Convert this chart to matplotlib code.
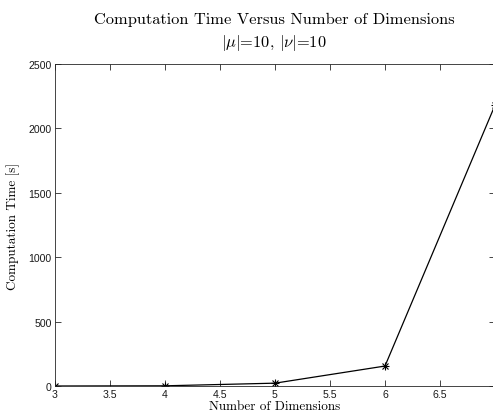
import numpy as np
import matplotlib
matplotlib.use("Agg")
import matplotlib.pyplot as plt

# data
dims = [3, 4, 5, 6, 7]
comp_time = [0.1, 1.5, 22, 155, 2180]

x_ticks = [3, 3.5, 4, 4.5, 5, 5.5, 6, 6.5, 7]
x_tick_labels = ["3", "3.5", "4", "4.5", "5", "5.5", "6", "6.5", ""]
y_ticks = [0, 500, 1000, 1500, 2000, 2500]

plt.rcParams["mathtext.fontset"] = "cm"
plt.rcParams["font.family"] = ["Liberation Sans", "DejaVu Sans"]
plt.rcParams["axes.unicode_minus"] = False

AX_GREY = "#262626"
SERIF = "cmr10"

fig = plt.figure(figsize=(4.93, 4.14), dpi=100)
ax = fig.add_axes([55 / 493, 1 - 387 / 414, 440 / 493, 322 / 414])

ax.plot(dims, comp_time, color="black", linewidth=0.9)
ax.plot(dims, comp_time, linestyle="none", marker="+", color="black",
        markersize=6, markeredgewidth=0.8)
ax.plot(dims, comp_time, linestyle="none", marker="x", color="black",
        markersize=4.5, markeredgewidth=0.8)

ax.set_xlim(3, 7)
ax.set_ylim(0, 2500)
ax.set_xticks(x_ticks)
ax.set_xticklabels(x_tick_labels)
ax.set_yticks(y_ticks)
ax.tick_params(direction="in", length=4, width=0.6, colors=AX_GREY,
               labelsize=7.6, top=True, right=True, pad=2.5)
for lab in ax.get_xticklabels() + ax.get_yticklabels():
    lab.set_color("#1a1a1a")
for s in ax.spines.values():
    s.set_color(AX_GREY)
    s.set_linewidth(0.6)

ax.set_xlabel("Number of Dimensions", family=SERIF, fontsize=9.5, labelpad=0)
ax.set_ylabel("Computation Time [s]", family=SERIF, fontsize=9.5, labelpad=6)

cx = 0.5 * (55 + 493) / 493
fig.text(cx, 1 - 20 / 414, "Computation Time Versus Number of Dimensions",
         family=SERIF, ha="center", va="center", fontsize=11.8)
fig.text(cx, 1 - 43 / 414, r"$|\mu|$=10, $|\nu|$=10",
         family=SERIF, ha="center", va="center", fontsize=11.8)

fig.savefig("out.png", dpi=100)
